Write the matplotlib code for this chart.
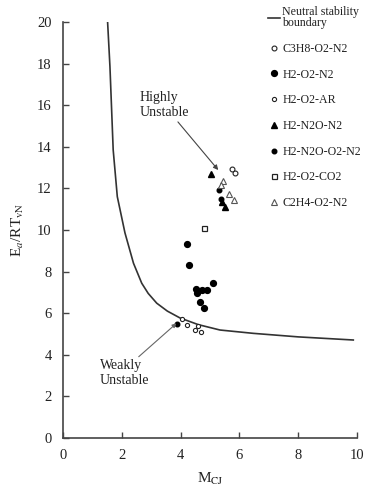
import numpy as np
import matplotlib
matplotlib.use("Agg")
import matplotlib.pyplot as plt

plt.rcParams['font.family'] = ['Liberation Serif', 'DejaVu Serif']
plt.rcParams['mathtext.fontset'] = 'stix'

# neutral stability boundary
bound_m = [1.52, 1.60, 1.71, 1.85, 2.11, 2.40, 2.68, 2.90, 3.19, 3.55, 3.98, 4.60, 5.34, 6.47, 8.00, 9.87]
bound_e = [20.0, 17.85, 13.85, 11.6, 9.86, 8.40, 7.44, 6.95, 6.48, 6.10, 5.77, 5.45, 5.19, 5.03, 4.86, 4.71]

# mixtures
c3h8_m = [5.74, 5.85]
c3h8_e = [12.92, 12.73]
h2o2n2_m = [4.21, 4.30, 4.52, 4.72, 4.91, 5.11, 4.55, 4.66, 4.80]
h2o2n2_e = [9.31, 8.32, 7.15, 7.12, 7.12, 7.44, 6.96, 6.52, 6.23]
h2o2ar_m = [4.04, 4.21, 4.60, 4.49, 4.68]
h2o2ar_e = [5.71, 5.43, 5.38, 5.19, 5.11]
h2n2on2_m = [5.02, 5.51, 5.42]
h2n2on2_e = [12.70, 11.12, 11.35]
h2n2oo2n2_m = [5.31, 5.36, 3.89]
h2n2oo2n2_e = [11.92, 11.47, 5.48]
h2o2co2_m = [4.79]
h2o2co2_e = [10.11]
c2h4_m = [5.45, 5.66, 5.80, 5.36]
c2h4_e = [12.37, 11.73, 11.43, 12.16]

fig = plt.figure(figsize=(3.72, 4.98), dpi=100)
ax = fig.add_axes([0.169, 0.1205, 0.791, 0.8355])

ink = '#222222'
ax.plot(bound_m, bound_e, color='#333333', lw=1.2, label='Neutral stability\nboundary')
ax.plot(c3h8_m, c3h8_e, 'o', ms=3.5, mfc='white', mec=ink, mew=0.8, ls='none', label='C3H8-O2-N2')
ax.plot(h2o2n2_m, h2o2n2_e, 'o', ms=4.2, color='black', ls='none', label='H2-O2-N2')
ax.plot(h2o2ar_m, h2o2ar_e, 'o', ms=3, mfc='white', mec=ink, mew=0.8, ls='none', label='H2-O2-AR')
ax.plot(h2n2on2_m, h2n2on2_e, '^', ms=4.2, color='black', ls='none', label='H2-N2O-N2')
ax.plot(h2n2oo2n2_m, h2n2oo2n2_e, 'o', ms=3.3, color='black', ls='none', label='H2-N2O-O2-N2')
ax.plot(h2o2co2_m, h2o2co2_e, 's', ms=3.6, mfc='white', mec=ink, mew=0.9, ls='none', label='H2-O2-CO2')
ax.plot(c2h4_m, c2h4_e, '^', ms=4, mfc='white', mec='#555555', mew=0.8, ls='none', label='C2H4-O2-N2')

ax.annotate('Highly\nUnstable', xy=(5.28, 12.88), xytext=(2.62, 16.0),
            ha='left', va='center', fontsize=10, color=ink,
            arrowprops=dict(arrowstyle='-|>', color='#444444', lw=0.8,
                            mutation_scale=7, shrinkA=0, shrinkB=0,
                            relpos=(0.72, 0.0)))
ax.annotate('Weakly\nUnstable', xy=(3.86, 5.51), xytext=(1.26, 3.1),
            ha='left', va='center', fontsize=10, color=ink,
            arrowprops=dict(arrowstyle='-|>', color='#666666', lw=0.8,
                            mutation_scale=6, shrinkA=0, shrinkB=0,
                            relpos=(0.72, 1.0)))

ax.set_xlim(0, 10)
ax.set_ylim(0, 20)
ax.set_xticks(np.arange(0, 11, 2))
ax.set_yticks(np.arange(0, 21, 2))
ax.tick_params(direction='in', length=4, width=1, color='#444444', labelsize=10.5,
               labelcolor=ink, pad=8)
for s in ['top', 'right']:
    ax.spines[s].set_visible(False)
for s in ['left', 'bottom']:
    ax.spines[s].set_color('#444444')
    ax.spines[s].set_linewidth(1.2)

ax.set_xlabel(r'M$_{\rm CJ}$', fontsize=11, color=ink, labelpad=6)
ax.set_ylabel(r'E$_a$/RT$_{\rm vN}$', fontsize=11, color=ink, labelpad=8)

leg = fig.legend(loc='upper left', bbox_to_anchor=(262 / 372, 1.0), frameon=False,
                 fontsize=8.6, handlelength=1.0, handletextpad=0.2, labelspacing=1.15,
                 borderaxespad=0.1, numpoints=1)
for t in leg.get_texts():
    t.set_color(ink)
leg.get_texts()[0].set_linespacing(0.9)

fig.savefig('out.png', dpi=100)
